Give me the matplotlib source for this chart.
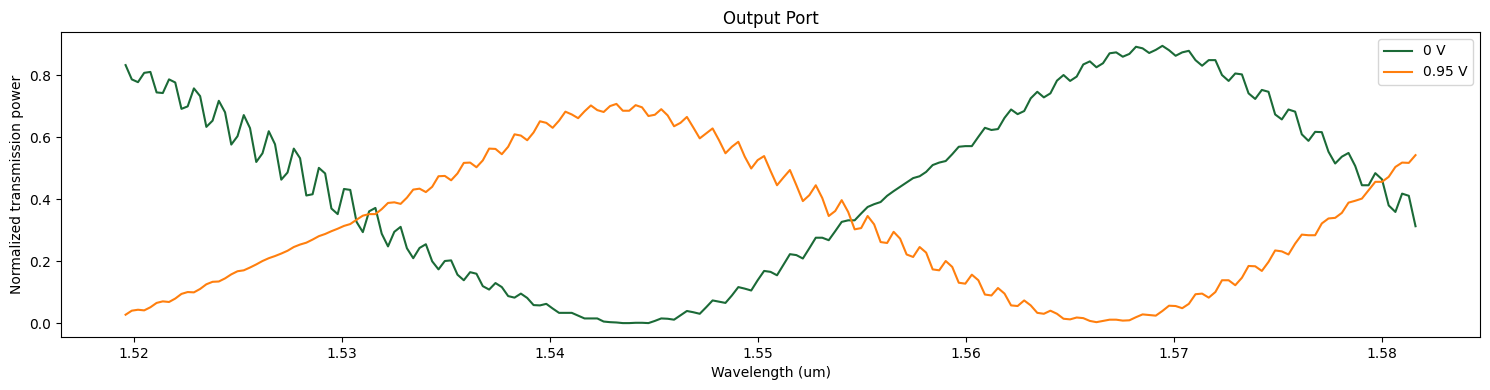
import numpy as np
import matplotlib
matplotlib.use("Agg")
import matplotlib.pyplot as plt


# wavelength grid: 201 points, evenly spaced in frequency
wl_start = 1.5196
wl_stop = 1.5816
n_points = 201

# transmission at 0 V
power_0v = [
    0.832, 0.786, 0.777, 0.807, 0.810, 0.744, 0.742, 0.786, 0.776, 0.691,
    0.699, 0.757, 0.732, 0.633, 0.653, 0.717, 0.680, 0.576, 0.603, 0.671,
    0.629, 0.520, 0.548, 0.619, 0.577, 0.463, 0.486, 0.563, 0.532, 0.412,
    0.416, 0.501, 0.483, 0.370,
    0.352, 0.433, 0.430, 0.327, 0.294, 0.361, 0.372, 0.289, 0.248, 0.295,
    0.311, 0.242, 0.210, 0.243, 0.255, 0.200, 0.174, 0.201, 0.203, 0.157,
    0.139, 0.165, 0.160, 0.120, 0.109, 0.130, 0.117, 0.088, 0.083, 0.096,
    0.082, 0.059, 0.058,
    0.063, 0.048, 0.034, 0.034, 0.034, 0.025, 0.016, 0.016, 0.016, 0.006,
    0.004, 0.003, 0.001, 0.001, 0.002, 0.002, 0.001, 0.008, 0.016, 0.015,
    0.012, 0.026, 0.040, 0.036, 0.031, 0.052, 0.074, 0.070, 0.066, 0.090,
    0.117, 0.112, 0.106,
    0.139, 0.169, 0.166, 0.155, 0.189, 0.223, 0.220, 0.209, 0.242, 0.276,
    0.276, 0.268, 0.297, 0.327, 0.332, 0.332, 0.354, 0.375, 0.384, 0.391,
    0.411, 0.426, 0.440, 0.454, 0.468, 0.474, 0.488, 0.510, 0.518, 0.523,
    0.545, 0.569,
    0.571, 0.571, 0.601, 0.630, 0.623, 0.626, 0.662, 0.689, 0.674, 0.684,
    0.725, 0.746, 0.728, 0.741, 0.782, 0.800, 0.781, 0.795, 0.834, 0.844,
    0.825, 0.838, 0.870, 0.873, 0.859, 0.868, 0.891, 0.886, 0.871, 0.881,
    0.894, 0.880,
    0.862, 0.873, 0.878, 0.848, 0.830, 0.848, 0.848, 0.800, 0.781, 0.805,
    0.802, 0.741, 0.723, 0.752, 0.746, 0.673, 0.657, 0.689, 0.682, 0.609,
    0.588, 0.617, 0.616, 0.553, 0.515, 0.537, 0.549, 0.507, 0.445, 0.445,
    0.484, 0.464, 0.380, 0.359, 0.418, 0.411, 0.313,
]

# transmission at 0.95 V
power_095v = [
    0.028, 0.041, 0.044, 0.042, 0.052, 0.066, 0.071, 0.069, 0.080, 0.095,
    0.101, 0.100, 0.111, 0.126, 0.134, 0.135, 0.145, 0.158, 0.168, 0.171,
    0.180, 0.190, 0.201, 0.210, 0.217, 0.225, 0.234, 0.246, 0.254, 0.260,
    0.270, 0.281, 0.288, 0.297,
    0.305, 0.314, 0.320, 0.334, 0.347, 0.352, 0.352, 0.368, 0.388, 0.390,
    0.385, 0.405, 0.431, 0.434, 0.423, 0.440, 0.474, 0.475, 0.461, 0.483,
    0.517, 0.518, 0.503, 0.525, 0.563, 0.562, 0.545, 0.569, 0.609, 0.605,
    0.590, 0.615, 0.651,
    0.646, 0.630, 0.653, 0.682, 0.673, 0.661, 0.683, 0.702, 0.687, 0.681,
    0.700, 0.707, 0.685, 0.685, 0.703, 0.696, 0.668, 0.672, 0.690, 0.670,
    0.635, 0.646, 0.665, 0.631, 0.596, 0.612, 0.628, 0.590, 0.548, 0.569,
    0.585, 0.537, 0.499,
    0.526, 0.539, 0.491, 0.445, 0.470, 0.494, 0.445, 0.394, 0.413, 0.445,
    0.404, 0.346, 0.362, 0.397, 0.359, 0.303, 0.307, 0.346, 0.319, 0.262,
    0.259, 0.295, 0.273, 0.222, 0.214, 0.246, 0.228, 0.174, 0.171, 0.201,
    0.182, 0.131,
    0.128, 0.157, 0.139, 0.093, 0.090, 0.114, 0.096, 0.058, 0.056, 0.074,
    0.058, 0.034, 0.031, 0.041, 0.031, 0.015, 0.013, 0.019, 0.017, 0.008,
    0.004, 0.008, 0.012, 0.012, 0.009, 0.010, 0.020, 0.029, 0.027, 0.025,
    0.040, 0.057,
    0.056, 0.049, 0.063, 0.094, 0.096, 0.083, 0.101, 0.139, 0.139, 0.123,
    0.147, 0.185, 0.184, 0.169, 0.198, 0.235, 0.232, 0.222, 0.257, 0.286,
    0.284, 0.284, 0.322, 0.338, 0.340, 0.356, 0.389, 0.395, 0.402, 0.429,
    0.456, 0.456, 0.472, 0.504, 0.518, 0.517, 0.542,
]

wavelength = 1.0 / np.linspace(1.0 / wl_start, 1.0 / wl_stop, n_points)

fig, ax = plt.subplots(figsize=(14.9, 3.9), dpi=100)
ax.plot(wavelength, power_0v, color='#1b6a37', label='0 V')
ax.plot(wavelength, power_095v, color='#ff7f0e', label='0.95 V')
ax.set_title('Output Port')
ax.set_xlabel('Wavelength (um)')
ax.set_ylabel('Normalized transmission power')
ax.legend(loc='upper right')
fig.subplots_adjust(left=0.041, right=0.9933, top=0.918, bottom=0.136)
fig.savefig('out.png')
